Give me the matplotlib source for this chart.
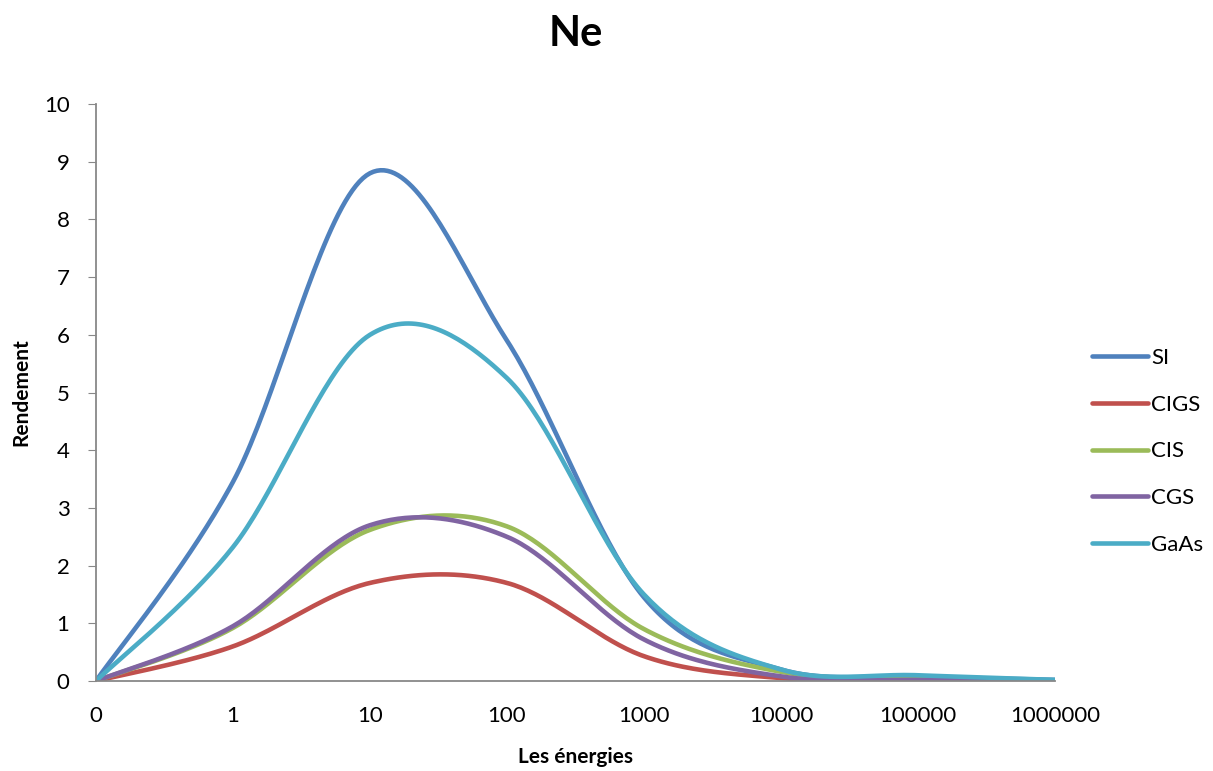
import matplotlib
matplotlib.use("Agg")
import matplotlib.pyplot as plt
import numpy as np

plt.rcParams['font.family'] = ['Lato', 'DejaVu Sans']

# energies (log axis, 0.1 is shown as "0")
energies = [0.1, 1, 10, 100, 1000, 10000, 100000, 1000000]
si = [0, 3.45, 8.8, 5.9, 1.45, 0.2, 0.08, 0.02]
cigs = [0, 0.6, 1.7, 1.7, 0.43, 0.05, 0.01, 0.0]
cis = [0, 0.92, 2.62, 2.68, 0.9, 0.16, 0.03, 0.01]
cgs = [0, 0.95, 2.7, 2.5, 0.72, 0.08, 0.02, 0.01]
gaas = [0, 2.32, 6.0, 5.25, 1.5, 0.2, 0.1, 0.02]

series = [("SI", si, "#4F81BD"), ("CIGS", cigs, "#C0504D"), ("CIS", cis, "#9BBB59"),
          ("CGS", cgs, "#8064A2"), ("GaAs", gaas, "#4BACC6")]
xticks = [0.1, 1, 10, 100, 1000, 10000, 100000, 1000000]
xlabels = ["0", "1", "10", "100", "1000", "10000", "100000", "1000000"]


def smooth(xs, ys, n=40):
    # Catmull-Rom curve through the points, in log10(x) space (like Excel's smoothed line)
    lx = np.log10(np.asarray(xs, float))
    y = np.asarray(ys, float)
    px = np.concatenate([[lx[0]], lx, [lx[-1]]])
    py = np.concatenate([[y[0]], y, [y[-1]]])
    outx, outy = [], []
    t = np.linspace(0, 1, n)
    for i in range(1, len(px) - 2):
        mx0 = (px[i + 1] - px[i - 1]) / 2
        mx1 = (px[i + 2] - px[i]) / 2
        my0 = (py[i + 1] - py[i - 1]) / 2
        my1 = (py[i + 2] - py[i]) / 2
        h00 = 2 * t**3 - 3 * t**2 + 1
        h10 = t**3 - 2 * t**2 + t
        h01 = -2 * t**3 + 3 * t**2
        h11 = t**3 - t**2
        outx.append(h00 * px[i] + h10 * mx0 + h01 * px[i + 1] + h11 * mx1)
        outy.append(h00 * py[i] + h10 * my0 + h01 * py[i + 1] + h11 * my1)
    return 10 ** np.concatenate(outx), np.concatenate(outy)


fig = plt.figure(figsize=(12.13, 7.71), dpi=100)
ax = fig.add_axes([0.0791, 0.1167, 0.7906, 0.7484])

for name, vals, col in series:
    sx, sy = smooth(energies, vals)
    ax.plot(sx, sy, color=col, linewidth=3.3, label=name, solid_capstyle='round')

ax.set_xscale('log')
ax.set_xlim(0.1, 1000000)
ax.set_ylim(0, 10)
ax.set_xticks(xticks)
ax.set_xticklabels(xlabels)
ax.xaxis.set_minor_locator(matplotlib.ticker.NullLocator())
ax.set_yticks(range(0, 11))
ax.tick_params(axis='x', length=0, pad=18, labelsize=16)
ax.tick_params(axis='y', length=6, color='#888888', pad=13, labelsize=16)

for s in ['top', 'right']:
    ax.spines[s].set_visible(False)
for s in ['left', 'bottom']:
    ax.spines[s].set_color('#888888')
    ax.spines[s].set_linewidth(1.3)

ax.set_title("Ne", fontsize=30, fontweight='bold', pad=42)
ax.set_xlabel("Les énergies", fontsize=15, fontweight='bold', labelpad=15)
ax.set_ylabel("Rendement", fontsize=15, fontweight='bold', labelpad=9)

fig.legend(loc='center left', bbox_to_anchor=(0.884, 0.4144), frameon=False,
           fontsize=16, handlelength=2.5, handletextpad=0.15, labelspacing=1.2)

fig.savefig("out.png", dpi=100)
